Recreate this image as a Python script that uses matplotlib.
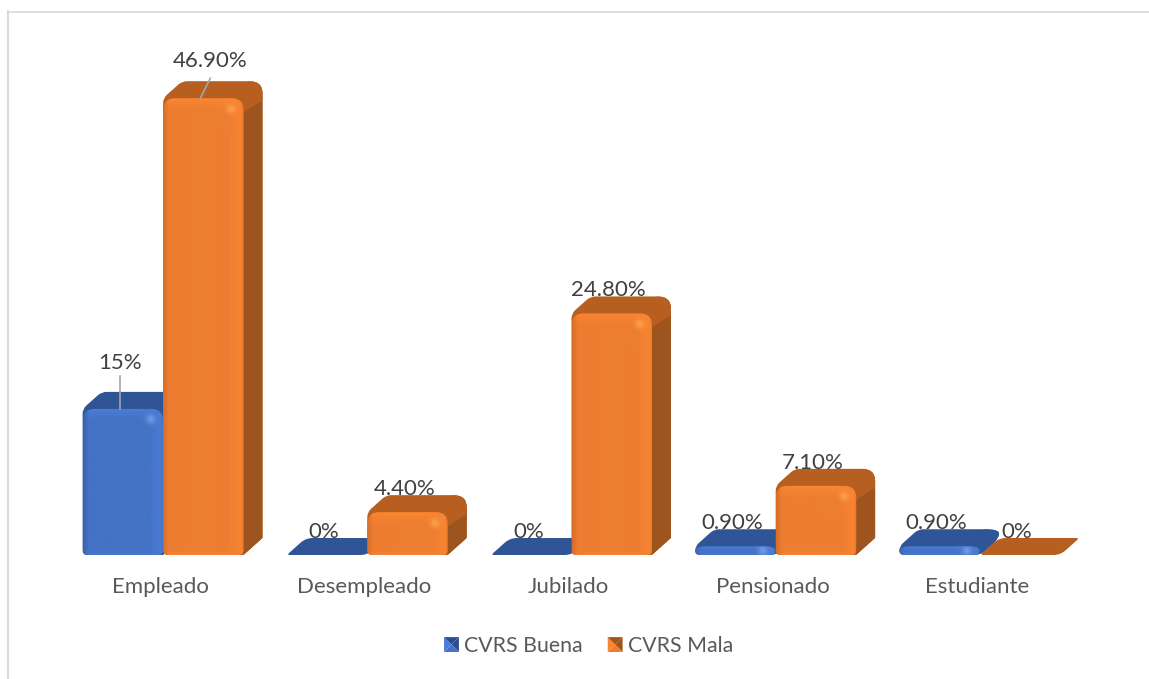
import numpy as np
import matplotlib
matplotlib.use('Agg')
import matplotlib.pyplot as plt
from matplotlib.path import Path
from matplotlib.patches import PathPatch, Patch, Polygon
from matplotlib.legend_handler import HandlerBase
from matplotlib.lines import Line2D
from matplotlib.colors import to_rgb

categories = ['Empleado', 'Desempleado', 'Jubilado', 'Pensionado', 'Estudiante']
buena = [15, 0, 0, 0.9, 0.9]
mala = [46.9, 4.4, 24.8, 7.1, 0]
buena_labels = ['15%', '0%', '0%', '0.90%', '0.90%']
mala_labels = ['46.90%', '4.40%', '24.80%', '7.10%', '0%']
series_names = ['CVRS Buena', 'CVRS Mala']

plt.rcParams['font.family'] = ['Lato', 'DejaVu Sans']
W, H = 1149, 679
fig = plt.figure(figsize=(W / 100, H / 100), dpi=100)
ax = fig.add_axes([61 / W, (H - 555) / H, 1021 / W, 487 / H])
xlim = (-0.5, 4.5)
ylim = (0, 50)
sx = 1021 / (xlim[1] - xlim[0])
sy = 487 / (ylim[1] - ylim[0])

bar_w = 80.5 / sx
dx = 19 / sx
dy = 17 / sy

colors = {
    'blue': dict(base='#4472C4', bright='#4A7DD6', dark='#3A62AC', top='#2F5597', side='#2B4F8C', spot='#78A4EE'),
    'orange': dict(base='#ED7D31', bright='#FB8632', dark='#D56E2A', top='#B65F20', side='#9E541E', spot='#FFA650'),
}


def round_path(pts, radii):
    q = np.array(pts, dtype=float) * [sx, sy]
    n = len(q)
    verts, codes = [], []
    for i in range(n):
        p, a, b = q[i], q[i - 1], q[(i + 1) % n]
        la, lb = np.linalg.norm(a - p), np.linalg.norm(b - p)
        r1, r2 = min(radii[i], la / 2), min(radii[i], lb / 2)
        verts += [p + (a - p) / la * r1, p, p + (b - p) / lb * r2]
        codes += [Path.MOVETO if i == 0 else Path.LINETO, Path.CURVE3, Path.CURVE3]
    verts.append(verts[0])
    codes.append(Path.CLOSEPOLY)
    return Path(np.array(verts) / [sx, sy], codes)


def front_image(w, h, c):
    base, bright = np.array(to_rgb(c['base'])), np.array(to_rgb(c['bright']))
    dark, spot = np.array(to_rgb(c['dark'])), np.array(to_rgb(c['spot']))
    yy, xx = np.mgrid[0:h, 0:w] + 0.5
    band = min(12, h / 2)
    img = np.ones((h, w, 3)) * base
    top = np.clip(1 - yy / band, 0, 1)
    right = np.clip(1 - (w - xx) / 14, 0, 1) ** 0.7
    bottom = np.clip(1 - (h - yy) / 5, 0, 1) * 0.5
    lit = np.maximum(np.maximum(top, right), bottom)[..., None]
    img = img * (1 - lit) + bright * lit
    edge = np.maximum(np.clip(1 - xx / 6, 0, 1), np.clip(1 - (w - xx) / 3, 0, 1) * 0.7)[..., None]
    img = img * (1 - edge) + dark * edge
    glow = np.exp(-((xx - (w - 13)) ** 2 + (yy - min(11, h / 2)) ** 2) / 22)[..., None] * 0.8
    img = img * (1 - glow) + spot * glow
    return img


def draw_bar(x0, v, c, z):
    x1 = x0 + bar_w
    if v > 0:
        outline = [(x0, 0), (x0, v), (x0 + dx, v + dy), (x1 + dx, v + dy), (x1 + dx, dy), (x1, 0)]
        radii = [5, 5, 5, 13, 1 if v > 3 else 7, 1 if v > 3 else 6]
    else:
        outline = [(x0, 0), (x0 + dx, dy), (x1 + dx, dy), (x1, 0)]
        radii = [3, 7, 3, 7]
    shape = PathPatch(round_path(outline, radii), fc=c['top'], ec='none', zorder=z)
    ax.add_patch(shape)
    if v <= 0:
        return
    side = Polygon([(x1, 0), (x1, v), (x1 + dx, v + dy), (x1 + dx, dy)], fc=c['side'], ec='none', zorder=z + 0.1)
    ax.add_patch(side)
    side.set_clip_path(shape)
    # rounded back corner is closer to the lid colour
    corner = Polygon([(x1 - 4 / sx, v), (x1 + 4 / sx, v + dy), (x1 + dx, v + dy), (x1 + dx, v - 2 / sy), (x1, v - 14 / sy)],
                     fc=c['top'], ec='none', zorder=z + 0.15)
    ax.add_patch(corner)
    corner.set_clip_path(shape)
    front = PathPatch(round_path([(x0, 0), (x0, v), (x1, v), (x1, 0)], [5, 12, 12, 5]),
                      fc='none', ec='none', zorder=z + 0.2)
    ax.add_patch(front)
    im = ax.imshow(front_image(int(round(bar_w * sx)), max(int(round(v * sy)), 2), c),
                   extent=(x0, x1, 0, v), aspect='auto', interpolation='bilinear', zorder=z + 0.2)
    im.set_clip_path(front)


for i in range(len(categories)):
    bars = [(i - bar_w, buena[i], colors['blue']), (i, mala[i], colors['orange'])]
    # lower bar goes behind the taller one
    bars.sort(key=lambda b: b[1])
    for k, (x0, v, c) in enumerate(bars):
        draw_bar(x0, v, c, 3 + i + k * 0.4)

ax.set_xlim(*xlim)
ax.set_ylim(*ylim)
ax.patch.set_alpha(0)
for s in ax.spines.values():
    s.set_visible(False)
ax.set_yticks([])
ax.set_xticks([i - 3 / sx for i in range(len(categories))])
ax.set_xticklabels(categories, fontsize=16, color='#595959')
ax.tick_params(axis='x', length=0, pad=16)

# data labels, pixel offsets from the bar top
leader = {(0, 0): (-3, 46), (1, 0): (7, 37)}
for s, (vals, labs) in enumerate([(buena, buena_labels), (mala, mala_labels)]):
    for i, (v, lab) in enumerate(zip(vals, labs)):
        xc = i + (s - 0.5) * bar_w
        off = leader.get((s, i), (-3, 23))
        ax.annotate(lab, (xc, v), xytext=(off[0] * 0.72, off[1] * 0.72), textcoords='offset points',
                    ha='center', va='center', fontsize=16, color='#404040', zorder=30,
                    annotation_clip=False)
        if (s, i) in leader:
            end_x = xc - 3 / sx
            ax.plot([end_x, xc + 7 / sx if s == 1 else end_x], [v, v + (33 if s == 0 else 20) / sy],
                    color='#A6A6A6', lw=1.2, zorder=29, clip_on=False)


class PyramidHandler(HandlerBase):
    def create_artists(self, legend, orig, xd, yd, width, height, fontsize, trans):
        c = orig.pyramid
        l, b = -xd, -yd
        m = (l + width / 2, b + height / 2)
        corners = [(l, b), (l, b + height), (l + width, b + height), (l + width, b)]
        shades = [c['bright'], c['side'], c['side'], c['base']]
        out = []
        for j, col in enumerate(shades):
            p = Polygon([corners[j], corners[(j + 1) % 4], m], fc=col, ec='none', transform=trans)
            out.append(p)
        return out


h1 = Patch(label=series_names[0])
h1.pyramid = colors['blue']
h2 = Patch(label=series_names[1])
h2.pyramid = colors['orange']
fig.legend(handles=[h1, h2], handler_map={Patch: PyramidHandler()}, loc='center',
           bbox_to_anchor=(588.5 / W, 1 - 646 / H), ncol=2, frameon=False, fontsize=15.3,
           labelcolor='#595959', handlelength=0.7, handleheight=0.7, handletextpad=0.24,
           columnspacing=1.18)

# outer chart border
fig.add_artist(Line2D([8 / W, 8 / W], [1 / H, 1 - 11 / H], color='#D9D9D9', lw=1.5))
fig.add_artist(Line2D([8 / W, 1], [1 - 11.5 / H, 1 - 11.5 / H], color='#D9D9D9', lw=1.2))

fig.savefig('out.png', dpi=100)
